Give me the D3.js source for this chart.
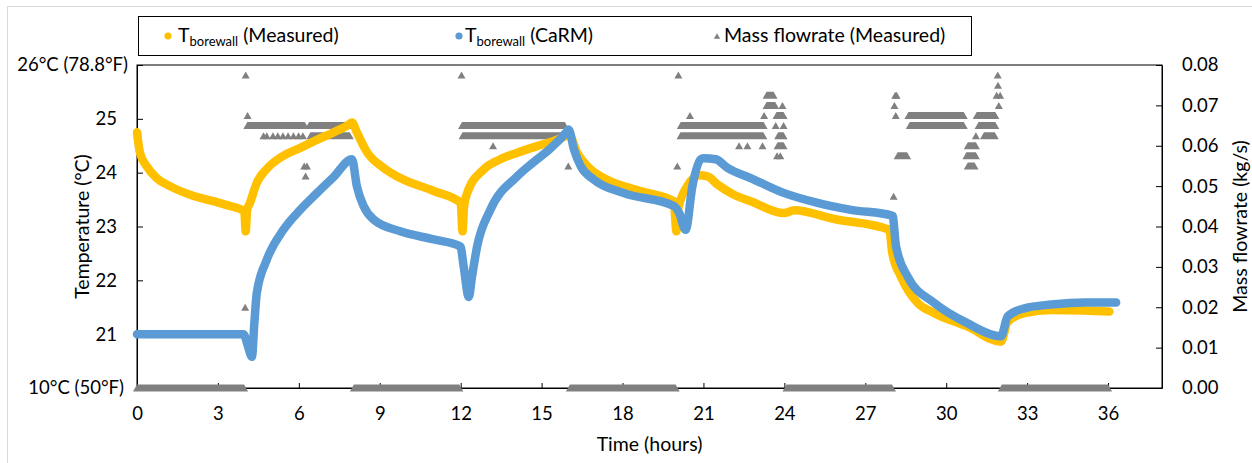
<!DOCTYPE html>
<html>
<head>
<meta charset="utf-8">
<script src="https://cdn.jsdelivr.net/npm/d3@7"></script>
<style>
  body { margin: 0; background: #fff; }
  svg { display: block; font-family: Lato, "Noto Sans", sans-serif; }
</style>
</head>
<body>
<svg id="chart" width="1252" height="463"></svg>
<script>
// Borehole wall temperature (°C) against elapsed time (hours)
const measuredHours = [0, 0.11, 0.36, 0.73, 1.22, 1.97, 2.83, 3.45, 3.98, 4.03, 4.08, 4.19, 4.44, 4.81, 5.35, 6.05, 6.67, 7.29, 7.78, 7.97,
  8.15, 8.53, 9.14, 9.76, 11.0, 12.0, 12.07, 12.12, 12.24, 12.85, 13.47, 14.1, 15.0, 15.5, 15.95, 16.0, 16.32, 16.82, 17.43, 18.67,
  19.9, 20.0, 20.05, 20.4, 20.85, 21.15, 21.52, 22.13, 22.75, 23.99, 24.36, 25.85, 27.89, 28.0, 28.32, 28.94, 29.56, 30.8, 32.03,
  32.28, 32.9, 33.89, 35.13, 36.05];
const measuredTemps = [24.75, 24.37, 24.12, 23.9, 23.75, 23.59, 23.47, 23.38, 23.28, 22.91, 23.3, 23.44, 23.81, 24.07, 24.29, 24.46, 24.61, 24.75, 24.87, 24.93,
  24.75, 24.38, 24.09, 23.9, 23.66, 23.44, 22.91, 23.35, 23.62, 24.06, 24.25, 24.37, 24.52, 24.6, 24.7, 24.72, 24.37, 24.06, 23.87, 23.66,
  23.47, 22.91, 23.3, 23.75, 23.95, 23.93, 23.78, 23.59, 23.47, 23.25, 23.3, 23.14, 22.94, 22.51, 22.07, 21.58, 21.39, 21.14, 20.86,
  21.23, 21.39, 21.45, 21.44, 21.42];

const carmHours = [0, 3.95, 4.1, 4.26, 4.35, 4.44, 4.81, 5.43, 6.05, 6.67, 7.29, 7.97, 8.15, 8.4, 8.77, 9.76, 11.0, 11.99, 12.11, 12.3,
  12.42, 12.61, 13.1, 14.09, 14.71, 15.33, 15.95, 16.0, 16.2, 16.45, 16.94, 18.05, 19.9, 20.1, 20.34, 20.59, 20.9, 21.0, 21.45,
  21.89, 22.75, 24.0, 25.23, 26.47, 28.01, 28.14, 28.57, 29.56, 30.8, 32.03, 32.28, 32.9, 33.89, 35.13, 36.3];
const carmTemps = [21.0, 21.0, 20.8, 20.58, 21.2, 21.76, 22.38, 22.94, 23.31, 23.62, 23.92, 24.25, 23.75, 23.38, 23.13, 22.91, 22.76, 22.63, 22.26, 21.69,
  22.07, 22.63, 23.31, 23.93, 24.2, 24.45, 24.77, 24.8, 24.43, 24.12, 23.87, 23.62, 23.38, 23.25, 22.94, 23.75, 24.25, 24.27, 24.25,
  24.09, 23.9, 23.62, 23.44, 23.31, 23.2, 22.63, 22.07, 21.58, 21.2, 20.96, 21.33, 21.48, 21.55, 21.59, 21.59];

// Mass flowrate (kg/s): stretches where the logger read a steady value
const flowRunStart = [0, 8.04, 16.05, 24.08, 32.06,
  4.09, 6.38, 6.43,
  12.05, 12.07,
  20.16, 20.15, 23.34, 23.34, 23.71, 23.77, 23.75,
  28.2, 28.6, 31.13, 28.65, 31.2, 31.4, 30.8, 30.75, 30.8];
const flowRunEnd = [3.97, 11.95, 19.97, 27.99, 36.0,
  6.22, 7.95, 7.89,
  15.86, 15.95,
  23.23, 23.22, 23.6, 23.66, 23.97, 23.97, 23.97,
  28.55, 30.65, 31.82, 30.65, 31.82, 31.8, 31.1, 31.1, 31.05];
const flowRunRate = [0, 0, 0, 0, 0,
  0.065, 0.065, 0.0625,
  0.065, 0.0625,
  0.065, 0.0625, 0.0725, 0.07, 0.0675, 0.0625, 0.06,
  0.0575, 0.0675, 0.0675, 0.065, 0.065, 0.0625, 0.06, 0.0575, 0.055];

// Mass flowrate (kg/s): isolated readings
const flowPointHours = [4.03, 4.1, 4.01, 6.2, 6.3, 6.25, 4.69, 4.81, 5.04, 5.22, 5.41, 5.6, 5.8, 5.99, 6.15,
  12.03, 12.03, 13.2, 15.99,
  20.07, 20.03, 20.5, 22.32, 22.63, 23.19, 23.93, 23.25, 23.68, 23.97, 23.73, 23.85,
  28.05, 28.08, 28.11, 28.16, 28.13, 31.91, 31.92, 31.87, 32.0, 31.95, 31.1];
const flowPointRates = [0.0775, 0.0675, 0.02, 0.055, 0.055, 0.0525, 0.0625, 0.0625, 0.0625, 0.0625, 0.0625, 0.0625, 0.0625, 0.0625, 0.0625,
  0.0775, 0.04, 0.06, 0.055,
  0.0775, 0.055, 0.0675, 0.06, 0.06, 0.06, 0.07, 0.0675, 0.065, 0.065, 0.0575, 0.0575,
  0.0475, 0.07, 0.0725, 0.0725, 0.0675, 0.0775, 0.075, 0.0725, 0.0725, 0.07, 0.0625];

// Axis ticks and labels
const hourTicks = [0, 3, 6, 9, 12, 15, 18, 21, 24, 27, 30, 33, 36];
const tempTicks = [20, 21, 22, 23, 24, 25, 26];
const tempTickLabels = ["10°C (50°F)", "21", "22", "23", "24", "25", "26°C (78.8°F)"];
const flowTicks = [0, 0.01, 0.02, 0.03, 0.04, 0.05, 0.06, 0.07, 0.08];

const legendSub = "borewall";
const legendNames = ["(Measured)", "(CaRM)", "Mass flowrate (Measured)"];
const colors = { measured: "#FFC000", carm: "#5B9BD5", flow: "#808080" };

const svg = d3.select("#chart");
const tickFont = 18.5;
const titleFont = 19.5;
const legendFont = 19.5;

// light chart-area border
svg.append("rect")
  .attr("x", 7.5).attr("y", 6.5).attr("width", 1300).attr("height", 500)
  .attr("fill", "none").attr("stroke", "#d9d9d9");

const x = d3.scaleLinear().domain([0, 38]).range([137, 1162]);
const yT = d3.scaleLinear().domain([20, 26]).range([388, 65]);
const yF = d3.scaleLinear().domain([0, 0.08]).range([388, 65]);

// plot frame
svg.append("rect")
  .attr("x", x(0)).attr("y", yT(26))
  .attr("width", x(38) - x(0)).attr("height", yT(20) - yT(26))
  .attr("fill", "none").attr("stroke", "#000").attr("stroke-width", 1);

function styleAxis(g) {
  g.selectAll("path.domain").attr("stroke", "#000");
  g.selectAll(".tick line").attr("stroke", "#000");
  g.selectAll(".tick text").attr("fill", "#000").attr("font-size", tickFont).attr("font-family", "Lato, 'Noto Sans', sans-serif");
}

const gx = svg.append("g").attr("transform", `translate(0,${yT(20)})`)
  .call(d3.axisBottom(x).tickValues(hourTicks).tickSizeInner(-5).tickSizeOuter(0).tickPadding(19).tickFormat(d3.format("d")));
styleAxis(gx);

const gyl = svg.append("g").attr("transform", `translate(${x(0)},0)`)
  .call(d3.axisLeft(yT).tickValues(tempTicks).tickSizeInner(-6).tickSizeOuter(0).tickPadding(20)
    .tickFormat((d, i) => tempTickLabels[i]));
styleAxis(gyl);
// the two end labels carry the unit and sit a little further right
gyl.selectAll(".tick text").filter(d => d === 26).attr("x", -9);
gyl.selectAll(".tick text").filter(d => d === 20).attr("x", -13);

const gyr = svg.append("g").attr("transform", `translate(${x(38)},0)`)
  .call(d3.axisRight(yF).tickValues(flowTicks).tickSizeInner(-6).tickSizeOuter(0).tickPadding(20)
    .tickFormat(d3.format(".2f")));
styleAxis(gyr);

// axis titles
svg.append("text").attr("transform", `translate(81,${(yT(20) + yT(26)) / 2}) rotate(-90)`)
  .attr("text-anchor", "middle").attr("dominant-baseline", "central")
  .attr("font-size", titleFont).text("Temperature  (°C)");
svg.append("text").attr("transform", `translate(1239,${(yT(20) + yT(26)) / 2}) rotate(-90)`)
  .attr("text-anchor", "middle").attr("dominant-baseline", "central")
  .attr("font-size", titleFont).text("Mass flowrate (kg/s)");
svg.append("text").attr("x", (x(0) + x(38)) / 2).attr("y", 443)
  .attr("text-anchor", "middle").attr("dominant-baseline", "central")
  .attr("font-size", titleFont).text("Time (hours)");

// triangle marker geometry
const triW = 8, triH = 7;
function triPath(cx, cy) {
  const p = d3.path();
  p.moveTo(cx - triW / 2, cy + triH / 2);
  p.lineTo(cx, cy - triH / 2);
  p.lineTo(cx + triW / 2, cy + triH / 2);
  p.closePath();
  return p.toString();
}
// a dense row of triangle markers merges into a trapezoid
function runPath(x1, x2, cy) {
  const p = d3.path();
  p.moveTo(x1 - triW / 2, cy + triH / 2);
  p.lineTo(x1, cy - triH / 2);
  p.lineTo(x2, cy - triH / 2);
  p.lineTo(x2 + triW / 2, cy + triH / 2);
  p.closePath();
  return p.toString();
}

const gFlow = svg.append("g").attr("fill", colors.flow);
gFlow.selectAll("path.run")
  .data(flowRunStart.map((s, i) => ({ s, e: flowRunEnd[i], v: flowRunRate[i] })))
  .join("path").attr("class", "run")
  .attr("d", d => runPath(x(d.s), x(d.e), yF(d.v)));
gFlow.selectAll("path.pt")
  .data(flowPointHours.map((h, i) => ({ h, v: flowPointRates[i] })))
  .join("path").attr("class", "pt")
  .attr("d", d => triPath(x(d.h), yF(d.v)));

// temperature curves
const line = d3.line().x(d => x(d[0])).y(d => yT(d[1])).curve(d3.curveMonotoneX);
svg.append("path")
  .datum(measuredHours.map((h, i) => [h, measuredTemps[i]]))
  .attr("d", line).attr("fill", "none").attr("stroke", colors.measured)
  .attr("stroke-width", 8.5).attr("stroke-linecap", "round").attr("stroke-linejoin", "round");
svg.append("path")
  .datum(carmHours.map((h, i) => [h, carmTemps[i]]))
  .attr("d", line).attr("fill", "none").attr("stroke", colors.carm)
  .attr("stroke-width", 8.5).attr("stroke-linecap", "round").attr("stroke-linejoin", "round");

// legend
const legend = svg.append("g");
legend.append("rect").attr("x", 138.5).attr("y", 16.5).attr("width", 833).attr("height", 39)
  .attr("fill", "#fff").attr("stroke", "#000");

function legendLabel(xPos, sub, name) {
  const t = legend.append("text").attr("x", xPos).attr("y", 42).attr("font-size", legendFont).attr("fill", "#000");
  if (sub) {
    t.append("tspan").text("T");
    t.append("tspan").attr("font-size", 13).attr("dy", 4).text(sub);
    t.append("tspan").attr("dy", -4).text("\u00a0" + name);
  } else {
    t.text(name);
  }
}
legend.append("circle").attr("cx", 168).attr("cy", 36).attr("r", 3.6).attr("fill", colors.measured);
legendLabel(178, legendSub, legendNames[0]);
legend.append("circle").attr("cx", 459).attr("cy", 36).attr("r", 3.6).attr("fill", colors.carm);
legendLabel(465, legendSub, legendNames[1]);
legend.append("path").attr("d", triPath(717, 36)).attr("fill", colors.flow).attr("transform", "translate(717,36) scale(0.8) translate(-717,-36)");
legendLabel(724, null, legendNames[2]);
</script>
</body>
</html>
